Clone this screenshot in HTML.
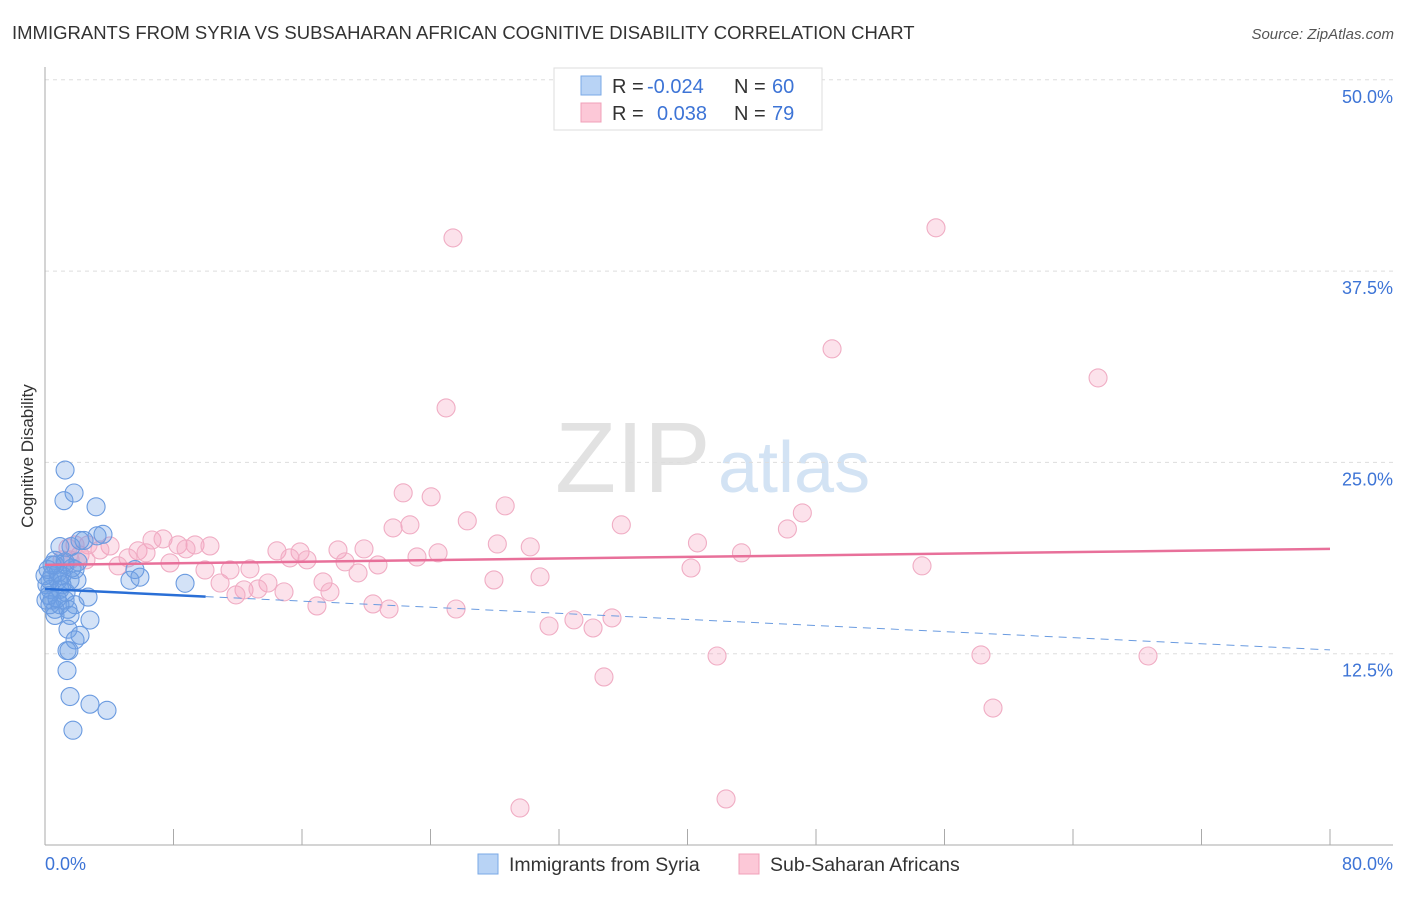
<!DOCTYPE html>
<html><head><meta charset="utf-8"><style>
body{margin:0;background:#fff;font-family:"Liberation Sans",sans-serif;}
svg text{font-family:"Liberation Sans",sans-serif;}
</style></head><body>
<svg id="chart" width="1406" height="892">
<text x="12" y="39" font-size="18.5" fill="#333">IMMIGRANTS FROM SYRIA VS SUBSAHARAN AFRICAN COGNITIVE DISABILITY CORRELATION CHART</text>
<text x="1394" y="39" font-size="15" fill="#555" text-anchor="end" font-style="italic">Source: ZipAtlas.com</text>
<text x="33" y="456" font-size="17" fill="#333" text-anchor="middle" transform="rotate(-90 33 456)">Cognitive Disability</text>
<text x="555" y="492" font-size="100" fill="#e2e2e2" font-family="Liberation Serif">ZIP</text>
<text x="718" y="492" font-size="72" fill="#d3e3f4">atlas</text>
<g id="grid"></g><g id="axes"></g><g id="pinkpts"></g><g id="bluepts"></g><g id="trends"></g>
<g>
<rect x="554" y="68" width="268" height="62" fill="#fff" stroke="#ddd"/>
<rect x="581" y="76" width="20" height="19" fill="#b8d3f5" stroke="#7aa8e6"/>
<rect x="581" y="103" width="20" height="19" fill="#fcc8d7" stroke="#f0a0b8"/>
<text y="93" font-size="20" fill="#333"><tspan x="612">R =</tspan><tspan x="647" fill="#3d74d6">-0.024</tspan><tspan x="734">N =</tspan><tspan x="772" fill="#3d74d6">60</tspan></text>
<text y="120" font-size="20" fill="#333"><tspan x="612">R =</tspan><tspan x="657" fill="#3d74d6">0.038</tspan><tspan x="734">N =</tspan><tspan x="772" fill="#3d74d6">79</tspan></text>
</g>
<g>
<rect x="478" y="854" width="20" height="20" fill="#b8d3f5" stroke="#7aa8e6"/>
<text x="509" y="871" font-size="19.5" fill="#333">Immigrants from Syria</text>
<rect x="739" y="854" width="20" height="20" fill="#fcc8d7" stroke="#f0a0b8"/>
<text x="770" y="871" font-size="19.5" fill="#333">Sub-Saharan Africans</text>
</g>
</svg>
<script>
const yTicks=[12.5,25,37.5,50];
const yTickLabels=["12.5%","25.0%","37.5%","50.0%"];
const xTicks=[0,8,16,24,32,40,48,56,64,72,80];
const blueX=[1.25,1.18,1.81,3.18,3.24,3.61,0.93,1.62,2.18,2.43,0.62,1.25,1.87,0.44,1.06,0.31,0.81,1.56,1.99,0.31,0.93,2.68,0.44,1.25,1.87,0.62,1.43,0.62,1.56,2.80,1.43,2.18,1.87,1.37,1.49,1.37,1.56,2.80,3.86,1.74,5.29,5.91,8.72,5.60,0.19,0,0.12,0.06,0.31,0.93,0.62,1.25,1.68,0.81,1.06,0.44,1.31,0.25,0.75,2.05];
const blueY=[24.5,22.5,23.0,22.1,20.2,20.3,19.5,19.5,19.9,19.9,18.3,18.3,18.0,17.6,17.6,17.3,17.3,17.3,17.3,16.7,16.7,16.2,16.0,16.0,15.7,15.4,15.4,15.0,15.0,14.7,14.1,13.7,13.4,12.7,12.7,11.4,9.7,9.2,8.8,7.5,17.3,17.5,17.1,18.0,18.0,17.6,17.0,16.0,15.7,15.7,18.6,18.5,18.1,17.8,17.0,18.3,16.5,16.3,16.1,18.5];
const pinkX=[25.40,55.47,49.00,65.56,24.97,22.30,24.04,28.65,26.29,35.88,47.15,21.67,22.72,46.22,28.16,30.21,40.62,43.36,24.47,23.16,14.44,15.88,18.24,19.86,16.31,15.25,18.68,20.73,19.49,27.95,30.82,40.22,54.60,17.31,17.74,13.88,10.90,12.39,11.89,13.26,14.88,12.76,11.52,9.96,7.78,6.66,7.35,8.28,9.34,10.27,8.78,5.79,5.17,4.55,4.05,3.42,2.68,2.18,1.56,1.87,1.06,16.93,20.42,21.42,25.59,31.38,32.93,34.12,35.30,34.80,41.84,58.27,68.67,59.02,29.57,42.40,6.29,2.55,1.43];
const pinkY=[39.67,40.33,32.42,30.52,28.56,23.01,22.75,22.16,21.18,20.92,21.70,20.72,20.92,20.65,19.67,19.48,19.74,19.09,19.09,18.82,19.22,19.15,19.28,19.35,18.63,18.76,18.50,18.30,17.78,17.32,17.52,18.10,18.24,17.19,16.54,17.12,17.12,16.67,16.34,16.73,16.54,18.04,17.97,17.97,18.43,19.93,20.00,19.61,19.61,19.54,19.35,19.22,18.76,18.24,19.54,19.28,19.61,18.95,18.63,19.61,18.63,15.62,15.75,15.42,15.42,14.31,14.71,14.18,14.84,10.98,12.35,12.42,12.35,8.95,2.42,3.01,19.09,18.63,19.41];
const pinkTrend=[18.3,19.35];
const blueTrend=[16.73,12.75];
const blueSolidEnd=10;
const NS="http://www.w3.org/2000/svg";
const sx=v=>45+v/80*1285;
const sy=v=>845-v/12.5*191.3;
function mk(tag,attrs,parent){const e=document.createElementNS(NS,tag);for(const k in attrs)e.setAttribute(k,attrs[k]);document.getElementById(parent).appendChild(e);return e;}
yTicks.forEach((t,i)=>{
 const g=mk('line',{x1:45,x2:1393,y1:sy(t),y2:sy(t),stroke:'#ddd','stroke-dasharray':'4,4'},'grid');
 
 
 const l=mk('text',{x:1393,y:sy(t)+23,'font-size':18,fill:'#3d74d6','text-anchor':'end'},'grid');
 l.textContent=yTickLabels[i];
 
 
});
const ya=mk('line',{x1:45,x2:45,y1:67,y2:845,stroke:'#aaa'},'axes');


const xa=mk('line',{x1:45,x2:1393,y1:845,y2:845,stroke:'#aaa'},'axes');


xTicks.forEach(t=>{
 const tk=mk('line',{x1:sx(t),x2:sx(t),y1:829,y2:845,stroke:'#aaa'},'axes');
 
 
});
const xl0=mk('text',{x:45,y:870,'font-size':18,fill:'#3d74d6'},'axes');xl0.textContent='0.0%';


const xl1=mk('text',{x:1393,y:870,'font-size':18,fill:'#3d74d6','text-anchor':'end'},'axes');xl1.textContent='80.0%';


pinkX.forEach((x,i)=>{
 const c=mk('circle',{cx:sx(x),cy:sy(pinkY[i]),r:9,fill:'rgba(245,160,190,0.3)',stroke:'#f0adc4','stroke-width':1.1},'pinkpts');
 
 
});
blueX.forEach((x,i)=>{
 const c=mk('circle',{cx:sx(x),cy:sy(blueY[i]),r:9,fill:'rgba(110,160,230,0.3)',stroke:'#6b9be0','stroke-width':1.1},'bluepts');
 
 
});
const pt=mk('line',{x1:sx(0),x2:sx(80),y1:sy(pinkTrend[0]),y2:sy(pinkTrend[1]),stroke:'#e8709a','stroke-width':2.5},'trends');


const bAt=x=>blueTrend[0]+(blueTrend[1]-blueTrend[0])*x/80;
const bs=mk('line',{x1:sx(0),x2:sx(blueSolidEnd),y1:sy(blueTrend[0]),y2:sy(bAt(blueSolidEnd)),stroke:'#2a6fd6','stroke-width':2.5},'trends');


const bd=mk('line',{x1:sx(blueSolidEnd),x2:sx(80),y1:sy(bAt(blueSolidEnd)),y2:sy(blueTrend[1]),stroke:'#6a9be0','stroke-width':1,'stroke-dasharray':'8,6'},'trends');


</script>
</body></html>
